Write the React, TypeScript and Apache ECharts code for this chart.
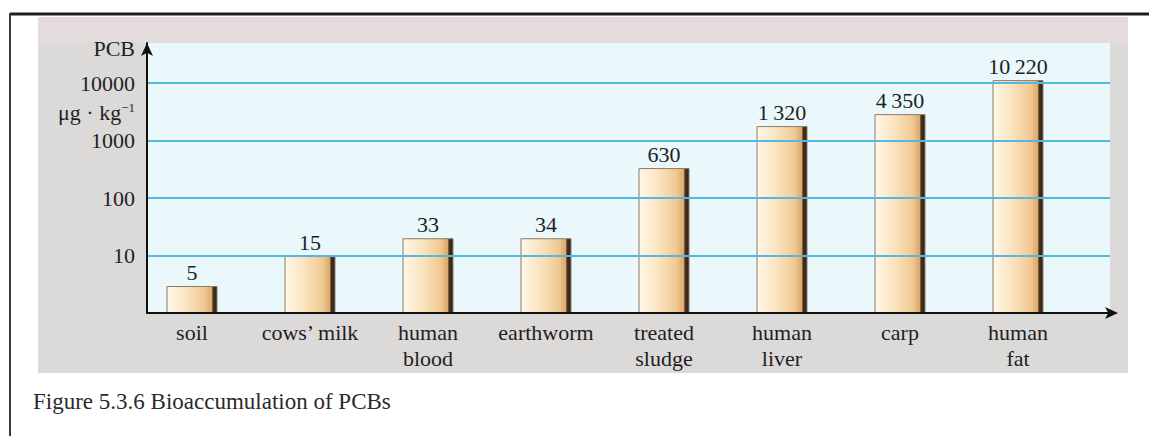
import React, { useEffect, useRef } from "react";
import * as echarts from "echarts";

const categories = ["soil", "cows\u2019 milk", "human\nblood", "earthworm", "treated\nsludge", "human\nliver", "carp", "human\nfat"];
// bar heights as drawn in the figure (log scale, µg·kg⁻¹)
const barHeights = [2.95, 9.8, 20, 20, 333, 1790, 2890, 11300];
// printed value labels above the bars
const valueLabels = ["5", "15", "33", "34", "630", "1\u2009320", "4\u2009350", "10\u2009220"];
const yTickLabels = ["10", "100", "1000", "10000"];

const FONT = "Liberation Serif";
const TEXT = "#1f1f1f";

export default function App() {
  const ref = useRef<HTMLDivElement>(null);
  useEffect(() => {
    if (!ref.current) return;
    const chart = echarts.init(ref.current, undefined, { renderer: "svg" });
    const barGradient = new echarts.graphic.LinearGradient(0, 0, 1, 0, [
      { offset: 0, color: "#fff7e6" },
      { offset: 0.35, color: "#fbe6c4" },
      { offset: 0.75, color: "#f0c992" },
      { offset: 0.9, color: "#dca86c" },
      { offset: 0.915, color: "#4a3420" },
      { offset: 1, color: "#2e2014" },
    ]);
    chart.setOption({
      animation: false,
      backgroundColor: "#ffffff",
      textStyle: { fontFamily: FONT },
      grid: [
        { left: 133, width: 944, top: 43, bottom: 123, containLabel: false },
        { left: 147, right: 39, top: 43, bottom: 123, show: true, backgroundColor: "#eaf8fc", borderWidth: 0, z: -1 },
      ],
      xAxis: [
        {
          type: "category",
          gridIndex: 0,
          data: categories,
          axisLine: { show: false },
          axisTick: { show: false },
          axisLabel: { fontFamily: FONT, fontSize: 22, color: TEXT, lineHeight: 26, margin: 6, interval: 0 },
        },
        {
          type: "value",
          gridIndex: 1,
          min: 0,
          max: 1,
          z: 5,
          axisLine: { show: true, lineStyle: { color: "#111", width: 2 }, symbol: ["none", "arrow"], symbolSize: [9, 13], symbolOffset: [0, 8] },
          axisTick: { show: false },
          axisLabel: { show: false },
          splitLine: { show: false },
        },
      ],
      yAxis: [
        {
          type: "log",
          gridIndex: 0,
          min: 1,
          max: 50000,
          axisLine: { show: false },
          axisTick: { show: false },
          axisLabel: { show: false },
          splitLine: { show: false },
        },
        {
          type: "log",
          gridIndex: 1,
          min: 1,
          max: 50000,
          z: 5,
          axisLine: { show: true, lineStyle: { color: "#111", width: 2 }, symbol: ["none", "arrow"], symbolSize: [9, 13] },
          axisTick: { show: false },
          axisLabel: {
            fontFamily: FONT,
            fontSize: 22,
            color: TEXT,
            margin: 12,
            showMaxLabel: false,
            formatter: (v: number) => {
              const s = String(Math.round(v));
              return yTickLabels.indexOf(s) >= 0 ? s : "";
            },
          },
          splitLine: { show: true, showMinLine: false, showMaxLine: false, lineStyle: { color: "#55b7e4", width: 2 } },
        },
      ],
      series: [
        {
          type: "bar",
          xAxisIndex: 0,
          yAxisIndex: 0,
          data: barHeights,
          barWidth: 51,
          z: 3,
          itemStyle: { color: barGradient, borderColor: "#8a7a6a", borderWidth: 1 },
          label: {
            show: true,
            position: "top",
            distance: 3,
            fontFamily: FONT,
            fontSize: 22,
            color: TEXT,
            formatter: (p: any) => valueLabels[p.dataIndex],
          },
        },
      ],
      graphic: [
        { type: "rect", z: -20, shape: { x: 38, y: 17, width: 1090, height: 356 }, style: { fill: "#dcd9d9" } },
        { type: "rect", z: -19, shape: { x: 38, y: 17, width: 1090, height: 26 }, style: { fill: "#e4dcdc" } },
        { type: "line", z: 10, shape: { x1: 10, y1: 14, x2: 1149, y2: 14 }, style: { stroke: "#1e1e1e", lineWidth: 3 } },
        { type: "line", z: 10, shape: { x1: 10, y1: 13, x2: 10, y2: 436 }, style: { stroke: "#3a3a3a", lineWidth: 2 } },
        { type: "text", z: 10, x: 135, y: 48, style: { text: "PCB", fontFamily: FONT, fontSize: 22, fill: TEXT, align: "right", verticalAlign: "middle" } },
        {
          type: "text",
          z: 10,
          x: 135,
          y: 112,
          style: {
            text: "\u03bcg \u00b7 kg{sup|\u22121}",
            fontFamily: FONT,
            fontSize: 22,
            fill: TEXT,
            align: "right",
            verticalAlign: "middle",
            rich: { sup: { fontFamily: FONT, fontSize: 13, fill: TEXT, verticalAlign: "top", padding: [0, 0, 10, 0] } },
          },
        },
        { type: "text", z: 10, x: 33, y: 401, style: { text: "Figure 5.3.6 Bioaccumulation of PCBs", fontFamily: FONT, fontSize: 23, fill: "#2a2a2a", align: "left", verticalAlign: "middle" } },
      ],
    });
    return () => chart.dispose();
  }, []);
  return <div ref={ref} style={{ position: "absolute", left: 0, top: 0, width: 1149, height: 436 }} />;
}
